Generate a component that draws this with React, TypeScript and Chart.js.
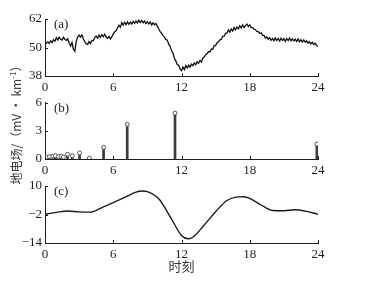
import React, { useEffect, useRef } from "react";
import { Chart, registerables } from "chart.js";

Chart.register(...registerables);

// ---------- data ----------
const xTickHours = [0, 6, 12, 18, 24];
const stepA = 0.125; // hours between samples of panel (a)
const fieldA: number[] = [
  51.0, 51.9, 52.4, 51.7, 52.8, 52.1, 53.3, 52.6,
  54.1, 53.2, 54.3, 53.5, 53.1, 54.3, 53.5, 53.0,
  53.7, 51.9, 50.6, 52.1, 49.3, 48.4, 52.7, 54.4,
  55.2, 54.4, 55.3, 53.6, 52.4, 51.6, 51.3, 52.5,
  51.7, 53.0, 52.9, 54.2, 54.8, 53.9, 55.2, 54.3,
  55.4, 54.5, 55.6, 54.4, 53.9, 54.7, 53.6, 54.6,
  55.6, 56.6, 57.0, 58.3, 59.4, 58.5, 60.5, 59.4,
  60.6, 59.6, 60.8, 59.8, 60.7, 59.9, 61.0, 60.2,
  61.2, 60.3, 61.5, 60.5, 61.4, 60.4, 61.2, 60.1,
  60.8, 59.9, 60.7, 59.5, 60.4, 59.6, 60.1, 59.0,
  57.8, 56.7, 56.0, 55.0, 54.4, 53.4, 53.1, 51.4,
  50.5, 48.7, 47.7, 45.4, 44.4, 42.8, 42.5, 41.0,
  40.2, 41.8, 40.7, 42.4, 41.4, 42.6, 41.7, 43.0,
  42.4, 43.5, 42.7, 44.0, 43.3, 44.6, 43.9, 45.5,
  46.0, 47.0, 47.4, 48.3, 48.1, 49.4, 49.3, 50.8,
  50.8, 52.0, 52.4, 53.2, 53.4, 54.7, 54.8, 56.0,
  56.1, 57.4, 56.5, 57.8, 56.9, 58.4, 57.4, 58.6,
  57.9, 59.1, 58.2, 59.5, 58.4, 59.2, 59.9, 58.9,
  59.5, 58.4, 58.4, 57.7, 57.5, 56.8, 56.7, 55.9,
  56.2, 55.1, 55.1, 53.9, 54.5, 53.4, 54.1, 53.0,
  53.8, 52.8, 54.0, 52.9, 53.8, 52.7, 53.9, 53.0,
  53.7, 52.6, 53.8, 52.9, 54.0, 52.8, 53.6, 52.8,
  53.5, 52.5, 53.6, 52.4, 53.3, 52.3, 53.2, 52.2,
  52.8, 51.8, 52.5, 51.5, 52.2, 51.3, 51.8, 50.8,
  50.4,
];

const stemTimes = [0.15, 0.4, 0.7, 0.92, 1.2, 1.42, 1.62, 1.98, 2.4, 3.04, 3.9, 5.15, 7.23, 11.43, 23.9];
const stemValues = [0.2, 0.25, 0.3, 0.35, 0.25, 0.3, 0.2, 0.5, 0.35, 0.65, 0.1, 1.25, 3.7, 4.9, 1.6];

const smoothTimes = [0, 1, 2, 3, 4, 5, 6, 7, 8, 8.5, 9, 10, 11, 12, 12.6, 13, 14, 15, 16, 17, 17.5, 18, 19, 20, 21, 22, 23, 24];
const smoothValues = [-1.9, -1.1, -0.5, -0.9, -1.0, 0.9, 3.0, 5.2, 7.4, 7.9, 7.6, 4.6, -2.9, -10.8, -12.2, -11.6, -6.4, -0.8, 3.9, 5.4, 5.5, 4.8, 2.0, -0.3, -0.4, 0.0, -0.7, -1.9];

const yTitle = "地电场/（mV · km";
const yTitleSup = "-1";
const xTitle = "时刻";

// ---------- styles ----------
const AXIS = "#1e1e1e";
const TEXT = "#1e1e1e";
const SERIF = "'Liberation Serif', 'Times New Roman', serif";
const CJK = "'Noto Sans CJK SC', sans-serif";

const inwardTicks = {
  id: "inwardTicks",
  afterDraw(chart: any, _args: any, opts: any) {
    const { ctx, chartArea } = chart;
    const xs = chart.scales.x;
    const ys = chart.scales.y;
    ctx.save();
    ctx.strokeStyle = AXIS;
    ctx.lineWidth = 1;
    ctx.beginPath();
    xs.ticks.forEach((t: any) => {
      const px = Math.round(xs.getPixelForValue(t.value)) + 0.5;
      ctx.moveTo(px, chartArea.bottom);
      ctx.lineTo(px, chartArea.bottom - 3);
    });
    ys.ticks.forEach((t: any) => {
      const py = Math.round(ys.getPixelForValue(t.value)) + 0.5;
      ctx.moveTo(chartArea.left, py);
      ctx.lineTo(chartArea.left + 3, py);
    });
    ctx.stroke();
    if (opts && opts.label) {
      ctx.fillStyle = TEXT;
      ctx.font = `13px ${SERIF}`;
      ctx.textBaseline = "middle";
      ctx.textAlign = "left";
      ctx.fillText(opts.label, chartArea.left + 9, chartArea.top + 6);
    }
    ctx.restore();
  },
};

function fmt(v: number | string) {
  return String(v).replace("-", "\u2212");
}

function makeOptions(p: {
  padTop: number;
  xHeight: number;
  yMin: number;
  yMax: number;
  yStep: number;
  label: string;
  showXTitle?: boolean;
}) {
  return {
    responsive: false,
    animation: false as const,
    devicePixelRatio: 1,
    layout: { padding: { left: 0, right: 50, top: p.padTop, bottom: 0 } },
    plugins: {
      legend: { display: false },
      tooltip: { enabled: false },
      inwardTicks: { label: p.label },
    },
    scales: {
      x: {
        type: "linear" as const,
        min: 0,
        max: 24,
        offset: false,
        grid: { display: false, offset: false, drawTicks: false },
        border: { display: true, color: AXIS, width: 1 },
        afterBuildTicks: (s: any) => {
          s.ticks = xTickHours.map((v) => ({ value: v }));
        },
        ticks: {
          padding: 4,
          color: TEXT,
          font: { family: SERIF, size: 13 },
          maxRotation: 0,
          autoSkip: false,
          callback: (v: any) => fmt(v),
        },
        title: p.showXTitle
          ? {
              display: true,
              text: xTitle,
              color: "#333",
              font: { family: CJK, size: 13 },
              padding: { top: 0, bottom: 0 },
            }
          : { display: false },
        afterFit: (s: any) => {
          s.height = p.xHeight;
        },
      },
      y: {
        min: p.yMin,
        max: p.yMax,
        grid: { display: false, drawTicks: false },
        border: { display: true, color: AXIS, width: 1 },
        ticks: {
          stepSize: p.yStep,
          padding: 3,
          color: TEXT,
          font: { family: SERIF, size: 13 },
          callback: (v: any) => fmt(v),
        },
        afterFit: (s: any) => {
          s.width = 45;
        },
      },
    },
  };
}

export default function App() {
  const refA = useRef<HTMLCanvasElement>(null);
  const refB = useRef<HTMLCanvasElement>(null);
  const refC = useRef<HTMLCanvasElement>(null);

  useEffect(() => {
    const chartA = new Chart(refA.current as HTMLCanvasElement, {
      type: "line",
      data: {
        datasets: [
          {
            data: fieldA.map((v, i) => ({ x: i * stepA, y: v })),
            borderColor: "#111",
            borderWidth: 1.3,
            pointRadius: 0,
            tension: 0,
          },
        ],
      },
      options: makeOptions({ padTop: 19, xHeight: 16, yMin: 38, yMax: 62, yStep: 12, label: "(a)" }) as any,
      plugins: [inwardTicks],
    });

    const chartB = new Chart(refB.current as HTMLCanvasElement, {
      type: "bar",
      data: {
        datasets: [
          {
            type: "scatter" as any,
            data: stemTimes.map((t, i) => ({ x: t, y: stemValues[i] })),
            pointRadius: 2,
            pointBorderWidth: 1,
            borderColor: "#555",
            backgroundColor: "#fff",
            order: 0,
          } as any,
          {
            type: "bar",
            data: stemTimes.map((t, i) => ({ x: t, y: stemValues[i] })),
            backgroundColor: "#3a3a3a",
            borderWidth: 0,
            barThickness: 2,
            grouped: false,
            order: 1,
          } as any,
        ],
      },
      options: makeOptions({ padTop: 9, xHeight: 16, yMin: 0, yMax: 6, yStep: 3, label: "(b)" }) as any,
      plugins: [inwardTicks],
    });

    const chartC = new Chart(refC.current as HTMLCanvasElement, {
      type: "line",
      data: {
        datasets: [
          {
            data: smoothTimes.map((t, i) => ({ x: t, y: smoothValues[i] })),
            borderColor: "#1a1a1a",
            borderWidth: 1.4,
            pointRadius: 0,
            cubicInterpolationMode: "monotone",
          },
        ],
      },
      options: makeOptions({ padTop: 11, xHeight: 31, yMin: -14, yMax: 10, yStep: 12, label: "(c)", showXTitle: true }) as any,
      plugins: [inwardTicks],
    });

    return () => {
      chartA.destroy();
      chartB.destroy();
      chartC.destroy();
    };
  }, []);

  const cv = (top: number, h: number) => ({
    position: "absolute" as const,
    left: 0,
    top,
    width: 368,
    height: h,
  });

  return (
    <div style={{ position: "absolute", left: 0, top: 0, width: 368, height: 284, background: "#fff", overflow: "hidden" }}>
      <canvas ref={refA} width={368} height={92} style={cv(0, 92)} />
      <canvas ref={refB} width={368} height={83} style={cv(92, 83)} />
      <canvas ref={refC} width={368} height={99} style={cv(175, 99)} />
      <div
        style={{
          position: "absolute",
          left: 16 - 75,
          top: 122 - 8,
          width: 150,
          height: 16,
          lineHeight: "16px",
          textAlign: "center",
          transform: "rotate(-90deg)",
          fontFamily: CJK,
          fontSize: 12,
          color: "#333",
          whiteSpace: "nowrap",
        }}
      >
        {yTitle}
        <sup style={{ fontSize: 8, lineHeight: 0 }}>{yTitleSup}</sup>
        {"）"}
      </div>
    </div>
  );
}
